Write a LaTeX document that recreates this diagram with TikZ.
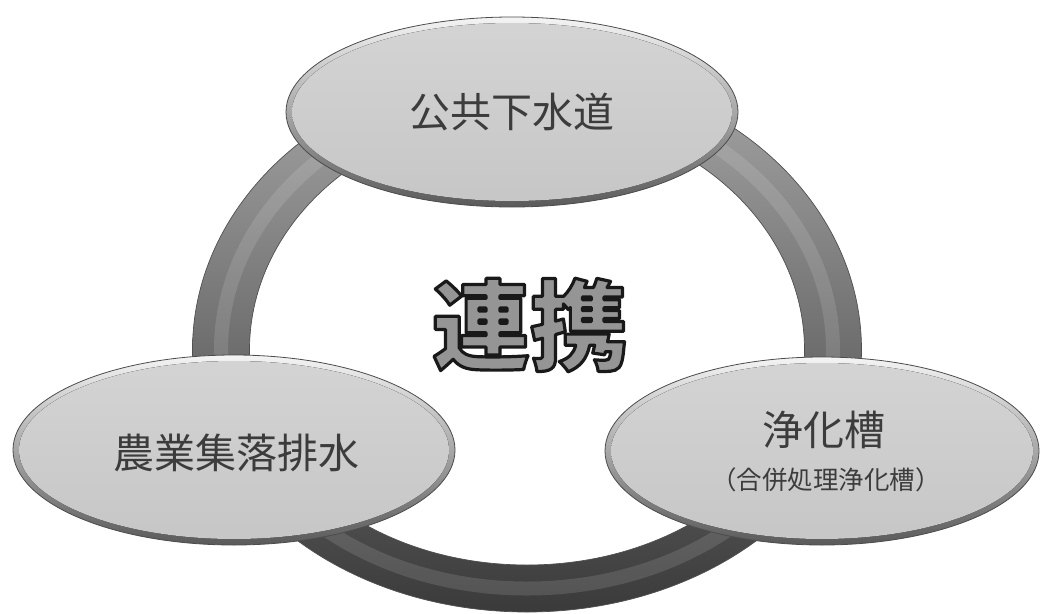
\documentclass[tikz,border=0pt]{standalone}
\usepackage{fontspec}
\newfontfamily\jp{Noto Sans CJK JP}
\usetikzlibrary{shapes.geometric}
\definecolor{txt}{HTML}{3C3C3C}
\definecolor{rimline}{HTML}{4C4C4C}
\definecolor{rimtop}{HTML}{F4F4F4}
\definecolor{rimbot}{HTML}{5A5A5A}
\definecolor{facetop}{HTML}{D4D4D4}
\definecolor{facebot}{HTML}{C6C6C6}
\definecolor{ringtop}{HTML}{A6A6A6}
\definecolor{ringmid}{HTML}{8A8A8A}
\definecolor{ringbot}{HTML}{3A3A3A}
\definecolor{ringedge}{HTML}{505050}
\definecolor{metal}{HTML}{959595}
\begin{document}
\begin{tikzpicture}[x=1pt,y=-1pt,
  bubble/.style n args={2}{ellipse, minimum width={2*#1pt}, minimum height={2*#2pt},
    inner sep=0pt, draw=rimline, line width=0.8pt, top color=rimtop, bottom color=rimbot,
    path picture={\fill[top color=facetop,bottom color=facebot]
      (path picture bounding box.center) ellipse [x radius={#1pt-6pt}, y radius={#2pt-6pt}];}},
  captxt/.style={font=\jp\fontsize{41}{41}\selectfont, text=txt, inner sep=0pt},
  smalltxt/.style={font=\jp\fontsize{25.5}{25.5}\selectfont, text=txt, inner sep=0pt}]
\fill[white] (0,0) rectangle (1040,613);
\useasboundingbox (0,0) rectangle (1040,613);
% ring
\path[even odd rule, top color=ringtop, middle color=ringmid, bottom color=ringbot, draw=ringedge, line width=0.7pt]
  (192.5,350) arc[start angle=180, end angle=360, x radius=334.5, y radius=282.5]
  arc[start angle=0, end angle=180, x radius=334.5, y radius=262] -- cycle
  (249.5,350) arc[start angle=180, end angle=360, x radius=277.5, y radius=236]
  arc[start angle=0, end angle=180, x radius=277.5, y radius=215] -- cycle;
\draw[white, opacity=0.12, line width=14pt]
  (221,350) arc[start angle=180, end angle=360, x radius=306, y radius=259]
  arc[start angle=0, end angle=180, x radius=306, y radius=238.5] -- cycle;
% bubbles
\node[bubble={226}{95}] (sewer) at (512,112) {};
\node[bubble={221}{95}] (farm) at (234,450) {};
\node[bubble={217}{94}] (tank) at (822,451) {};
% texts
\node[captxt] (sewertxt) at (sewer.center) {公共下水道};
\node[captxt] (farmtxt) at (236,453) {農業集落排水};
\node[captxt] (tanktxt) at (824,430) {浄化槽};
\node[smalltxt] (tanksub) at (826,480) {（合併処理浄化槽）};
\node[font=\jp\bfseries\fontsize{98}{98}\selectfont, text=metal, inner sep=0pt] (renkei) at (530,325)
  {\special{pdf:literal direct 0.1 0.1 0.1 RG 3.2 w 1 j 2 Tr}連携\special{pdf:literal direct 0 Tr 1 w}};
\end{tikzpicture}
\end{document}
